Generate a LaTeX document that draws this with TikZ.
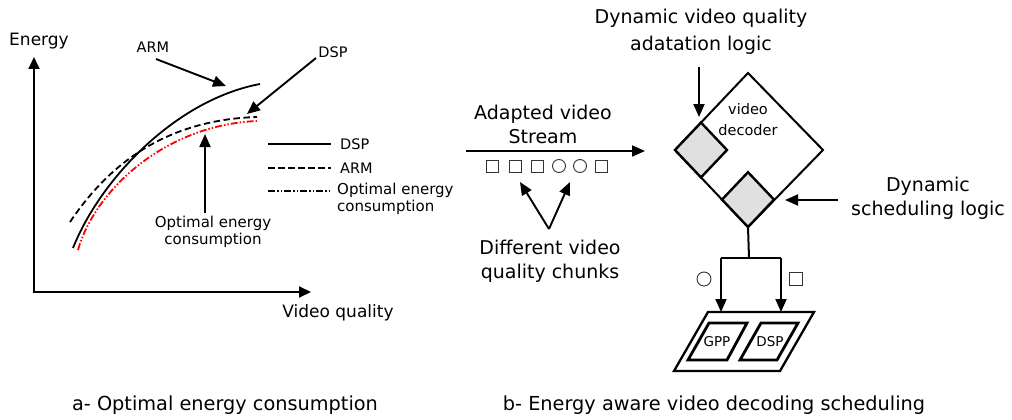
\documentclass[tikz,border=0pt]{standalone}
\usepackage{fontspec}
\setmainfont{DejaVu Sans}
\usetikzlibrary{arrows.meta}
\newcommand\fsCap{\fontsize{19.3}{24}\selectfont}
\newcommand\fsBig{\fontsize{19}{24}\selectfont}
\newcommand\fsAxis{\fontsize{17}{20}\selectfont}
\newcommand\fsSmall{\fontsize{14.5}{18}\selectfont}
\newcommand\fsOpt{\fontsize{15}{17.5}\selectfont}
\newcommand\fsDec{\fontsize{14.5}{21}\selectfont}
\newcommand\fsTiny{\fontsize{13.5}{15}\selectfont}
\begin{document}
\begin{tikzpicture}[x=1pt,y=-1pt,
  lbl/.style={inner sep=0pt, align=center},
  arr/.style={line width=1.9pt, -{Triangle[length=13pt,width=11pt]}},
  axis/.style={line width=1.9pt, {Triangle[length=12pt,width=11pt]}-{Triangle[length=12pt,width=11pt]}},
  curve/.style={line width=1.8pt},
  dashcurve/.style={line width=1.8pt, dash pattern=on 6.5pt off 3.5pt},
  optcurve/.style={line width=1.8pt, dash pattern=on 7pt off 2pt on 1.5pt off 2pt on 1.5pt off 2pt},
  thick diamond/.style={line width=2.4pt, fill=black!12, line join=miter},
  chunk/.style={draw=black!80, line width=0.9pt, minimum size=12pt, inner sep=0pt},
  proc/.style={line width=2.8pt, line join=miter},
]
\useasboundingbox (0,0) rectangle (1012,420);

% ---------------- (a) ----------------
\coordinate (O) at (34,292);
\coordinate (ytip) at (34,57);
\coordinate (xtip) at (311,292);
\draw[axis] (ytip) -- (O) -- (xtip);
\node[lbl, font=\fsAxis] (energy) at (39,41) {Energy};
\node[lbl, font=\fsAxis] (vq) at (338,313) {Video quality};

% curves
\coordinate (s0) at (73,248);  \coordinate (s1) at (260,84);
\coordinate (d0) at (70,222);  \coordinate (d1) at (257,117);
\coordinate (r0) at (78,250);  \coordinate (r1) at (257,121);
\draw[curve] (s0) .. controls (100,180) and (175,100) .. (s1);
\draw[dashcurve] (d0) .. controls (105,170) and (160,120) .. (d1);
\draw[optcurve, red] (r0) .. controls (95,190) and (165,125) .. (r1);

% labels with arrows
\node[lbl, font=\fsSmall] (armlbl) at (153,47) {ARM};
\coordinate (armtip) at (226,86);
\draw[arr] (156,59) -- (armtip);
\node[lbl, font=\fsSmall] (dsplbl) at (333,52) {DSP};
\coordinate (dsptip) at (247,114);
\draw[arr] (316,58) -- (dsptip);
\node[lbl, font=\fsOpt] (optlbl) at (213,232) {Optimal energy\\consumption};
\coordinate (opttip) at (205,134);
\draw[arr] (205,213) -- (opttip);

% legend
\coordinate (l1a) at (268,144); \coordinate (l1b) at (331,144);
\coordinate (l2a) at (268,168); \coordinate (l2b) at (331,168);
\coordinate (l3a) at (268,191); \coordinate (l3b) at (331,191);
\draw[curve] (l1a) -- (l1b);
\draw[dashcurve] (l2a) -- (l2b);
\draw[optcurve] (l3a) -- (l3b);
\node[lbl, anchor=west, font=\fsSmall] (leg1) at (340,144) {DSP};
\node[lbl, anchor=west, font=\fsSmall] (leg2) at (340,168) {ARM};
\node[lbl, anchor=west, font=\fsOpt, align=left] (leg3) at (337,199) {Optimal energy\\consumption};

\node[lbl, font=\fsCap] (capa) at (225,405) {a- Optimal energy consumption};

% ---------------- (b) ----------------
\node[lbl, font=\fsBig] (dvq) at (701,32) {Dynamic video quality\\[3pt]adatation logic};
\node[lbl, font=\fsBig] (avs) at (543,124) {Adapted video\\Stream};
\node[lbl, font=\fsBig] (dvc) at (550,261) {Different video\\quality chunks};
\node[lbl, font=\fsBig] (dsl) at (928,198) {Dynamic\\scheduling logic};

% stream arrow and chunks
\coordinate (st0) at (466,151);
\coordinate (st1) at (645,151);
\draw[arr] (st0) -- (st1);
\node[chunk] (c1) at (492,166) {};
\node[chunk] (c2) at (515,166) {};
\node[chunk] (c3) at (537,166) {};
\node[chunk, circle, minimum size=13pt] (c4) at (559,166) {};
\node[chunk, circle, minimum size=13pt] (c5) at (580,166) {};
\node[chunk] (c6) at (601,166) {};
\coordinate (vtip) at (549,229);
\draw[arr] (vtip) -- (520,182);
\draw[arr] (vtip) -- (570,182);

% decoder diamond
\coordinate (DT) at (748,73);
\coordinate (DR) at (823,150);
\coordinate (DB) at (748,227);
\coordinate (DL) at (675,150);
\draw[line width=2pt, line join=miter] (DT) -- (DR) -- (DB) -- (DL) -- cycle;
\draw[thick diamond] (675,150) -- (701,122.6) -- (727,150) -- (701,177.4) -- cycle;
\draw[thick diamond] (722,199.6) -- (748,172.2) -- (774,199.6) -- (748,227) -- cycle;
\node[lbl, font=\fsDec] (dec) at (748,120) {video\\decoder};

\draw[arr] (699,67) -- (699,117);
\draw[arr] (838,200) -- (785,200);

% branch to processors
\coordinate (stem) at (749,258);
\coordinate (bl) at (721,258);
\coordinate (br) at (781,258);
\draw[line width=2pt] (DB) -- (stem);
\draw[line width=2pt] (bl) -- (br);
\draw[arr] (bl) -- (721,312);
\draw[arr] (br) -- (781,312);
\node[chunk, circle, minimum size=14pt] (bc) at (704,279) {};
\node[chunk, minimum size=13pt] (bs) at (796,279) {};

% processor platform
\draw[line width=2.3pt, line join=miter] (708,312) -- (814,312) -- (780,371) -- (674,371) -- cycle;
\draw[proc] (709,323) -- (747,323) -- (727,360) -- (688,360) -- cycle;
\draw[proc] (761,323) -- (798,323) -- (777,360) -- (740,360) -- cycle;
\node[lbl, font=\fsTiny] (gpp) at (717,342) {GPP};
\node[lbl, font=\fsTiny] (dspp) at (770,342) {DSP};

\node[lbl, font=\fsCap] (capb) at (714,405) {b- Energy aware video decoding scheduling};
\end{tikzpicture}
\end{document}
